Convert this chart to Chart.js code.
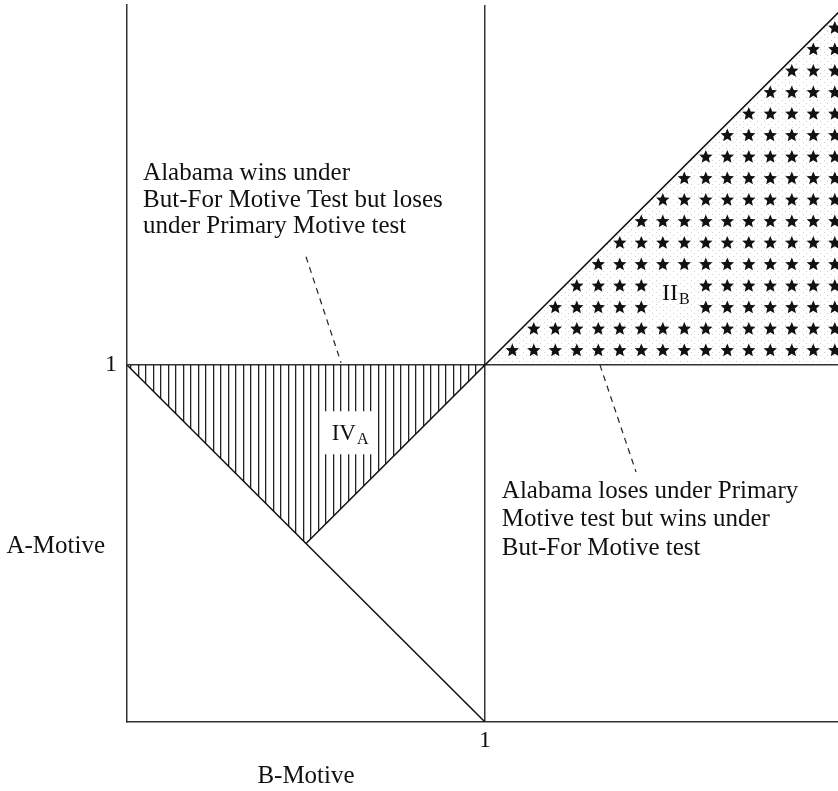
<!DOCTYPE html>
<html><head><meta charset="utf-8">
<script src="https://cdn.jsdelivr.net/npm/chart.js@4"></script>
<style>html,body{margin:0;padding:0;background:#fff}#wrap{width:838px;height:791px}</style>
</head><body><div id="wrap"><canvas id="c" width="838" height="791"></canvas></div>
<script>
// ---- data ----
const xTicks = [1];                 // B-Motive tick values
const yTicks = [1];                 // A-Motive tick values
const xTickLabels = ['1'];
const yTickLabels = ['1'];
const bRange = [0, 1.986];          // B-Motive axis range
const aRange = [0, 2.008];          // A-Motive axis range
// line A + B = 1
const primaryB = [0, 1];
const primaryA = [1, 0];
// line A = B
const butForB = [0.5, 2];
const butForA = [0.5, 2];
// region IV_A (hatched)
const regionIVB = [0, 1, 0.5];
const regionIVA = [1, 1, 0.5];
// region II_B (stars)
const regionIIB = [1, 2, 2];
const regionIIA = [1, 2, 1];
// dashed leaders
const leader1B = [0.5, 0.598];
const leader1A = [1.303, 1.006];
const leader2B = [1.321, 1.422];
const leader2A = [1.0, 0.700];
// texts
const note1 = ['Alabama wins under', 'But-For Motive Test but loses', 'under Primary Motive test'];
const note2 = ['Alabama loses under Primary', 'Motive test but wins under', 'But-For Motive test'];
const xTitle = 'B-Motive';
const yTitle = 'A-Motive';
const labelIV = ['IV', 'A'];
const labelII = ['II', 'B'];

const FONT = "'Liberation Serif', 'DejaVu Serif', serif";
const zip = (bs, as) => bs.map((b, i) => ({x: b, y: as[i]}));

const canvas = document.getElementById('c');
const mctx = canvas.getContext('2d');

function makeHatch() {
  const t = document.createElement('canvas');
  t.width = 15; t.height = 8;
  const g = t.getContext('2d');
  g.fillStyle = '#222';
  g.fillRect(3, 0, 1, 8);
  g.fillRect(10, 0, 1, 8);
  g.fillStyle = 'rgba(0,0,0,0.25)';
  g.fillRect(4, 0, 1, 8);
  g.fillRect(11, 0, 1, 8);
  return mctx.createPattern(t, 'repeat');
}
function makeStipple() {
  const t = document.createElement('canvas');
  t.width = 7; t.height = 6;
  const g = t.getContext('2d');
  g.fillStyle = 'rgba(0,0,0,0.18)';
  g.fillRect(1, 1, 1, 1);
  g.fillRect(5, 4, 1, 1);
  return mctx.createPattern(t, 'repeat');
}

function starPath(ctx, cx, cy, R, r) {
  ctx.beginPath();
  for (let i = 0; i < 10; i++) {
    const ang = -Math.PI / 2 + i * Math.PI / 5;
    const rad = i % 2 ? r : R;
    ctx.lineTo(cx + rad * Math.cos(ang), cy + rad * Math.sin(ang));
  }
  ctx.closePath();
  ctx.fill();
}

function drawRegionLabel(ctx, parts, cx, cy, mainSize, subSize, whiteBox) {
  ctx.font = mainSize + 'px ' + FONT;
  const mw = ctx.measureText(parts[0]).width;
  ctx.font = subSize + 'px ' + FONT;
  const sw = ctx.measureText(parts[1]).width;
  const total = mw + sw + 1;
  if (whiteBox) {
    ctx.fillStyle = '#fff';
    ctx.fillRect(cx - whiteBox[0], cy - whiteBox[1], whiteBox[0] * 2, whiteBox[1] * 2);
  }
  const x0 = cx - total / 2;
  const base = cy + mainSize * 0.33;
  ctx.fillStyle = '#111';
  ctx.textAlign = 'left';
  ctx.textBaseline = 'alphabetic';
  ctx.font = mainSize + 'px ' + FONT;
  ctx.fillText(parts[0], x0, base);
  ctx.font = subSize + 'px ' + FONT;
  ctx.fillText(parts[1], x0 + mw + 1, base + 4);
}

const decor = {
  id: 'decor',
  afterDatasetsDraw(chart) {
    const {ctx, chartArea: ca, scales: {x, y}} = chart;
    // stars inside region II_B
    const step = 21.5;
    const ox = x.getPixelForValue(1) + 27.3;
    const oy = y.getPixelForValue(1) - 15;
    const lab2 = {cx: x.getPixelForValue(1.533), cy: y.getPixelForValue(1.204)};
    ctx.save();
    ctx.beginPath();
    ctx.rect(ca.left, ca.top, ca.right - ca.left, ca.bottom - ca.top);
    ctx.clip();
    ctx.fillStyle = '#111';
    for (let r = 0; oy - r * step > ca.top; r++) {
      const cy = oy - r * step;
      const lineX = x.getPixelForValue(y.getValueForPixel(cy));
      for (let c = 0; ox + c * step < ca.right + 7; c++) {
        const cx = ox + c * step;
        if (cx - lineX < 6) continue;
        if (Math.abs(cx - lab2.cx) < 20 && Math.abs(cy - lab2.cy) < 19) continue;
        starPath(ctx, cx, cy + 0.6, 7, 3.2);
      }
    }
    ctx.restore();

    ctx.save();
    // region labels
    drawRegionLabel(ctx, labelIV, x.getPixelForValue(0.623), y.getPixelForValue(0.81), 23, 16, [27.5, 21.5]);
    drawRegionLabel(ctx, labelII, lab2.cx, lab2.cy, 24, 16, null);

    // notes
    ctx.fillStyle = '#111';
    ctx.textAlign = 'left';
    ctx.textBaseline = 'alphabetic';
    ctx.font = '25px ' + FONT;
    const n1x = x.getPixelForValue(0.045), n1y = y.getPixelForValue(1.518);
    note1.forEach((t, i) => ctx.fillText(t, n1x, n1y + i * 26.7));
    const n2x = x.getPixelForValue(1.047), n2y = y.getPixelForValue(0.627);
    note2.forEach((t, i) => ctx.fillText(t, n2x, n2y + i * 28.3));

    // axis titles
    ctx.textAlign = 'right';
    ctx.fillText(yTitle, ca.left - 22, y.getPixelForValue(0.5) + 9.5);
    ctx.textAlign = 'center';
    ctx.fillText(xTitle, x.getPixelForValue(0.5), ca.bottom + 61);
    ctx.restore();
  }
};

const lineStyle = {showLine: true, pointRadius: 0, borderColor: '#111', borderWidth: 1.5, fill: false, order: 0};

new Chart(canvas, {
  type: 'scatter',
  data: {
    datasets: [
      Object.assign({}, lineStyle, {label: 'A+B=1', data: zip(primaryB, primaryA)}),
      Object.assign({}, lineStyle, {label: 'A=B', data: zip(butForB, butForA)}),
      Object.assign({}, lineStyle, {label: 'leader1', data: zip(leader1B, leader1A), borderDash: [6, 5], borderWidth: 1.2, borderColor: '#222'}),
      Object.assign({}, lineStyle, {label: 'leader2', data: zip(leader2B, leader2A), borderDash: [6, 5], borderWidth: 1.2, borderColor: '#222'}),
      {label: 'IV_A', data: zip(regionIVB, regionIVA), showLine: true, pointRadius: 0, borderWidth: 0, borderColor: 'rgba(0,0,0,0)', backgroundColor: makeHatch(), fill: 'shape', order: 10},
      {label: 'II_B', data: zip(regionIIB, regionIIA), showLine: true, pointRadius: 0, borderWidth: 0, borderColor: 'rgba(0,0,0,0)', backgroundColor: makeStipple(), fill: 'shape', order: 11}
    ]
  },
  options: {
    responsive: false,
    animation: false,
    events: [],
    layout: {padding: {top: 5, left: 0, right: 0, bottom: 0}},
    plugins: {legend: {display: false}, tooltip: {enabled: false}, title: {display: false}},
    scales: {
      x: {
        type: 'linear', min: bRange[0], max: bRange[1],
        afterFit: s => { s.height = 69; s.paddingLeft = 0; s.paddingRight = 0; },
        afterBuildTicks: s => { s.ticks = xTicks.map(v => ({value: v})); },
        ticks: {callback: (v) => xTickLabels[xTicks.indexOf(v)] ?? '', color: '#111', font: {family: FONT, size: 24}, padding: 4, maxRotation: 0},
        grid: {color: '#333', lineWidth: 1.5, drawTicks: false},
        border: {display: true, color: '#333', width: 1.5}
      },
      y: {
        type: 'linear', min: aRange[0], max: aRange[1],
        afterFit: s => { s.width = 127; s.paddingTop = 0; s.paddingBottom = 0; },
        afterBuildTicks: s => { s.ticks = yTicks.map(v => ({value: v})); },
        ticks: {callback: (v) => yTickLabels[yTicks.indexOf(v)] ?? '', color: '#111', font: {family: FONT, size: 24}, padding: 10},
        grid: {color: '#333', lineWidth: 1.5, drawTicks: false},
        border: {display: true, color: '#333', width: 1.5}
      }
    }
  },
  plugins: [decor]
});
</script></body></html>
